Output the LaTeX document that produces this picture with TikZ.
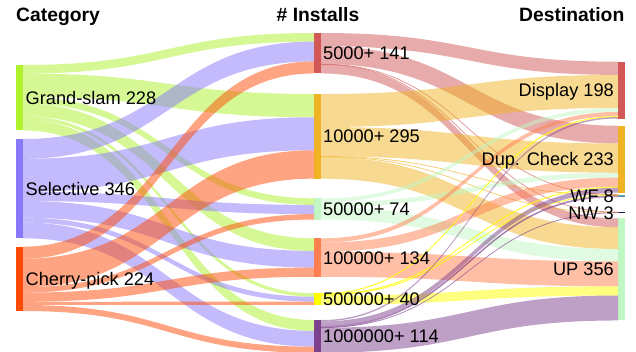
\documentclass[tikz,border=0pt]{standalone}
\usepackage{fontspec}
\setmainfont{Liberation Sans}
\usetikzlibrary{calc}
\definecolor{cgs}{HTML}{ADF22A}
\definecolor{csel}{HTML}{8878FA}
\definecolor{ccp}{HTML}{FF4A05}
\definecolor{cma}{HTML}{D25858}
\definecolor{cmb}{HTML}{F0B323}
\definecolor{cmc}{HTML}{C2F7C4}
\definecolor{cmd}{HTML}{FF7F50}
\definecolor{cme}{HTML}{FFFF00}
\definecolor{cmf}{HTML}{7E418E}
\definecolor{cwf}{HTML}{5F9EA0}
\definecolor{cnw}{HTML}{191970}
\definecolor{cup}{HTML}{C0F8C3}
\def\skl{0.287}
\newcommand\flw[6]{%
  \pgfmathsetmacro\fa{#2*\skl}%
  \pgfmathsetmacro\fb{(#2+#5)*\skl}%
  \pgfmathsetmacro\fc{#4*\skl}%
  \pgfmathsetmacro\fd{(#4+#5)*\skl}%
  \ifnum#5<5 \tikzset{fx/.style={draw=#6,draw opacity=0.5,line width=0.5pt}}\else\tikzset{fx/.style={}}\fi
  \coordinate (fs1) at ([yshift=-\fa pt]#1.north east);
  \coordinate (fs2) at ([yshift=-\fb pt]#1.north east);
  \coordinate (ft1) at ([yshift=-\fc pt]#3.north west);
  \coordinate (ft2) at ([yshift=-\fd pt]#3.north west);
  \coordinate (fm) at ($(fs1)!0.5!(ft1)$);
  \fill[#6, fill opacity=0.5, fx] (fs1) .. controls (fm |- fs1) and (fm |- ft1) .. (ft1) -- (ft2) .. controls (fm |- ft2) and (fm |- fs2) .. (fs2) -- cycle;
}
\tikzset{
  bar/.style={draw=none, inner sep=0pt, outer sep=0pt, minimum width=7pt, anchor=north west},
  lbl/.style={inner sep=0pt, font=\fontsize{18.2}{21}\selectfont, text=black},
  hdr/.style={inner sep=0pt, font=\fontsize{19.3}{23}\selectfont\bfseries, text=black},
}
\begin{document}
\begin{tikzpicture}[x=1pt,y=-1pt]
\useasboundingbox (0,0) rectangle (636,351);
% headers
\node[hdr, anchor=base west] (h1) at (16,21) {Category};
\node[hdr, anchor=base] (h2) at (318,21) {\# Installs};
\node[hdr, anchor=base east] (h3) at (624.5,21) {Destination};
% bars
\node[bar, fill=cgs, minimum height=65.44pt] (gs) at (15.5,65) {};
\node[bar, fill=csel, minimum height=99.30pt] (sel) at (15.5,139) {};
\node[bar, fill=ccp, minimum height=64.29pt] (cp) at (15.5,246.7) {};
\node[bar, fill=cma, minimum height=40.47pt] (m1) at (314,33) {};
\node[bar, fill=cmb, minimum height=84.67pt] (m2) at (314,94) {};
\node[bar, fill=cmc, minimum height=21.24pt] (m3) at (314,198.3) {};
\node[bar, fill=cmd, minimum height=38.46pt] (m4) at (314,238.3) {};
\node[bar, fill=cme, minimum height=11.48pt] (m5) at (314,293.3) {};
\node[bar, fill=cmf, minimum height=32.72pt] (m6) at (314,320) {};
\node[bar, fill=cma, minimum height=56.83pt] (d) at (618,61.7) {};
\node[bar, fill=cmb, minimum height=66.87pt] (dup) at (618,125.7) {};
\node[bar, fill=cwf, minimum height=2.30pt] (wf) at (618,194.5) {};
\node[bar, fill=cnw, minimum height=0.86pt] (nw) at (618,212) {};
\node[bar, fill=cup, minimum height=102.17pt] (up) at (618,218.3) {};
% left -> middle
\flw{gs}{0}{m1}{0}{30}{cgs}
\flw{gs}{30}{m2}{0}{81}{cgs}
\flw{gs}{111}{m3}{0}{23}{cgs}
\flw{gs}{134}{m4}{0}{44}{cgs}
\flw{gs}{178}{m5}{0}{12}{cgs}
\flw{gs}{190}{m6}{0}{38}{cgs}
\flw{sel}{0}{m1}{30}{69}{csel}
\flw{sel}{69}{m2}{81}{115}{csel}
\flw{sel}{184}{m3}{23}{32}{csel}
\flw{sel}{216}{m4}{44}{58}{csel}
\flw{sel}{274}{m5}{12}{17}{csel}
\flw{sel}{291}{m6}{38}{55}{csel}
\flw{cp}{0}{m1}{99}{42}{ccp}
\flw{cp}{42}{m2}{196}{99}{ccp}
\flw{cp}{141}{m3}{55}{19}{ccp}
\flw{cp}{160}{m4}{102}{32}{ccp}
\flw{cp}{192}{m5}{29}{11}{ccp}
\flw{cp}{203}{m6}{93}{21}{ccp}
% middle -> right
\flw{m1}{0}{d}{0}{46}{cma}
\flw{m1}{46}{dup}{0}{62}{cma}
\flw{m1}{108}{wf}{0}{1}{cma}
\flw{m1}{109}{nw}{0}{1}{cma}
\flw{m1}{110}{up}{0}{31}{cma}
\flw{m2}{0}{d}{46}{115}{cmb}
\flw{m2}{115}{dup}{62}{102}{cmb}
\flw{m2}{217}{wf}{1}{1}{cmb}
\flw{m2}{218}{nw}{1}{1}{cmb}
\flw{m2}{219}{up}{31}{76}{cmb}
\flw{m3}{0}{d}{161}{14}{cmc}
\flw{m3}{14}{dup}{164}{17}{cmc}
\flw{m3}{31}{up}{107}{43}{cmc}
\flw{m4}{0}{d}{175}{15}{cmd}
\flw{m4}{15}{dup}{181}{32}{cmd}
\flw{m4}{47}{up}{150}{87}{cmd}
\flw{m5}{0}{d}{190}{3}{cme}
\flw{m5}{3}{dup}{213}{3}{cme}
\flw{m5}{6}{wf}{2}{2}{cme}
\flw{m5}{8}{up}{237}{32}{cme}
\flw{m6}{0}{d}{193}{5}{cmf}
\flw{m6}{5}{dup}{216}{17}{cmf}
\flw{m6}{22}{wf}{4}{4}{cmf}
\flw{m6}{26}{nw}{2}{1}{cmf}
\flw{m6}{27}{up}{269}{87}{cmf}
% labels
\node[lbl, anchor=base west] (lgs) at ([xshift=3pt,yshift=-6.6pt]gs.east) {Grand-slam 228};
\node[lbl, anchor=base west] (lsel) at ([xshift=3pt,yshift=-6.6pt]sel.east) {Selective 346};
\node[lbl, anchor=base west] (lcp) at ([xshift=3pt,yshift=-6.6pt]cp.east) {Cherry-pick 224};
\node[lbl, anchor=base west] (lm1) at ([xshift=2pt,yshift=-6.6pt]m1.east) {5000+ 141};
\node[lbl, anchor=base west] (lm2) at ([xshift=2pt,yshift=-6.6pt]m2.east) {10000+ 295};
\node[lbl, anchor=base west] (lm3) at ([xshift=2pt,yshift=-6.6pt]m3.east) {50000+ 74};
\node[lbl, anchor=base west] (lm4) at ([xshift=2pt,yshift=-6.6pt]m4.east) {100000+ 134};
\node[lbl, anchor=base west] (lm5) at ([xshift=2pt,yshift=-6.6pt]m5.east) {500000+ 40};
\node[lbl, anchor=base west] (lm6) at ([xshift=2pt,yshift=-6.6pt]m6.east) {1000000+ 114};
\node[lbl, anchor=base east] (ld) at ([xshift=-4pt,yshift=-6.6pt]d.west) {Display 198};
\node[lbl, anchor=base east] (ldup) at ([xshift=-4pt,yshift=-6.6pt]dup.west) {Dup. Check 233};
\node[lbl, anchor=base east] (lwf) at ([xshift=-4pt,yshift=-6.6pt]wf.west) {WF 8};
\node[lbl, anchor=base east] (lnw) at ([xshift=-4pt,yshift=-6.6pt]nw.west) {NW 3};
\node[lbl, anchor=base east] (lup) at ([xshift=-4pt,yshift=-6.6pt]up.west) {UP 356};
\end{tikzpicture}
\end{document}
